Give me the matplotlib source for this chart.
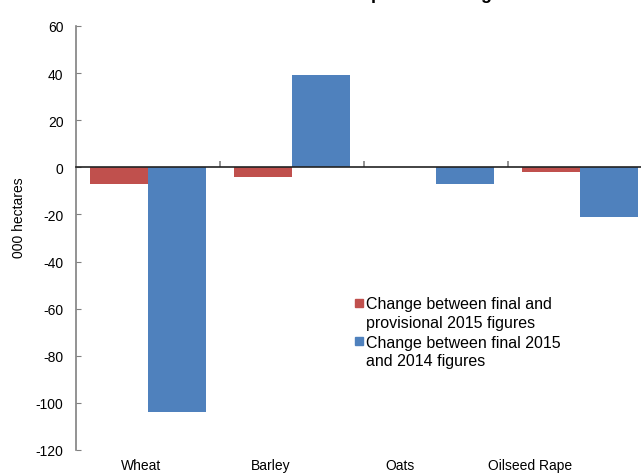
import matplotlib

matplotlib.use("Agg")
import matplotlib.pyplot as plt
import numpy as np
from matplotlib.legend_handler import HandlerPatch
from matplotlib.patches import Patch, Rectangle

plt.rcParams["font.family"] = ["Liberation Sans", "DejaVu Sans"]
plt.rcParams["axes.unicode_minus"] = False

crops = ["Wheat", "Barley", "Oats", "Oilseed Rape"]
final_vs_provisional = [-7, -4, 0, -2]
final_2015_vs_2014 = [-104, 39, -7, -21]
series_labels = [
    "Change between final and\nprovisional 2015 figures",
    "Change between final 2015\nand 2014 figures",
]
title = "Cereal and oilseed rape area changes"

red = "#C0504D"
blue = "#4F81BD"


def first_line_square(legend, orig_handle, xdescent, ydescent, width, height, fontsize):
    # lift the key square level with the first line of a two-line label
    return Rectangle((-xdescent, -ydescent + 0.66 * fontsize), width, height)


W, H = 641, 477
fig = plt.figure(figsize=(W / 100, H / 100), dpi=100)
ax = fig.add_axes([76 / W, 26 / H, 576 / W, 424 / H])

x = np.arange(len(crops))
ax.bar(x - 0.2, final_vs_provisional, width=0.4, color=red, zorder=2)
ax.bar(x + 0.2, final_2015_vs_2014, width=0.4, color=blue, zorder=2)

ax.set_xlim(-0.5, len(crops) - 0.5)
ax.set_ylim(-120, 60)
ax.set_yticks(np.arange(-120, 61, 20))
ax.tick_params(axis="y", direction="in", length=3.5, color="#808080",
               labelsize=10, pad=9)
ax.set_ylabel("000 hectares", fontsize=10)
ax.yaxis.set_label_coords(-0.087, 0.55)

for side in ["top", "right"]:
    ax.spines[side].set_visible(False)
ax.spines["left"].set_color("#808080")
ax.spines["left"].set_linewidth(1.2)

# zero line carries the category divider ticks
ax.spines["bottom"].set_position(("data", 0))
ax.spines["bottom"].set_color("#222222")
ax.spines["bottom"].set_linewidth(1.2)
ax.spines["bottom"].set_zorder(3)
ax.set_xticks(x[:-1] + 0.5)
ax.set_xticklabels([])
ax.tick_params(axis="x", direction="in", length=4, color="#808080",
               width=1.2)

# crop names along the bottom of the plot area
label_axis = ax.secondary_xaxis("bottom")
label_axis.spines["bottom"].set_visible(False)
label_axis.set_xticks(x * 0.9 - 0.05)
label_axis.set_xticklabels(crops, fontsize=10)
label_axis.tick_params(length=0, pad=6)

handles = [Patch(color=red), Patch(color=blue)]
legend = fig.legend(handles, series_labels, loc="upper left",
                    bbox_to_anchor=(349 / W, 1 - 291 / H), frameon=False,
                    fontsize=11.5, handlelength=0.45, handleheight=0.45,
                    handletextpad=0.2, labelspacing=0.3, borderaxespad=0,
                    handler_map={Patch: HandlerPatch(patch_func=first_line_square)})
for text in legend.get_texts():
    text.set_linespacing(1.28)

fig.text(351 / W, 1 + 1 / H, title, ha="center", va="baseline",
         fontsize=13, fontweight="bold")

fig.savefig("out.png", dpi=100)
